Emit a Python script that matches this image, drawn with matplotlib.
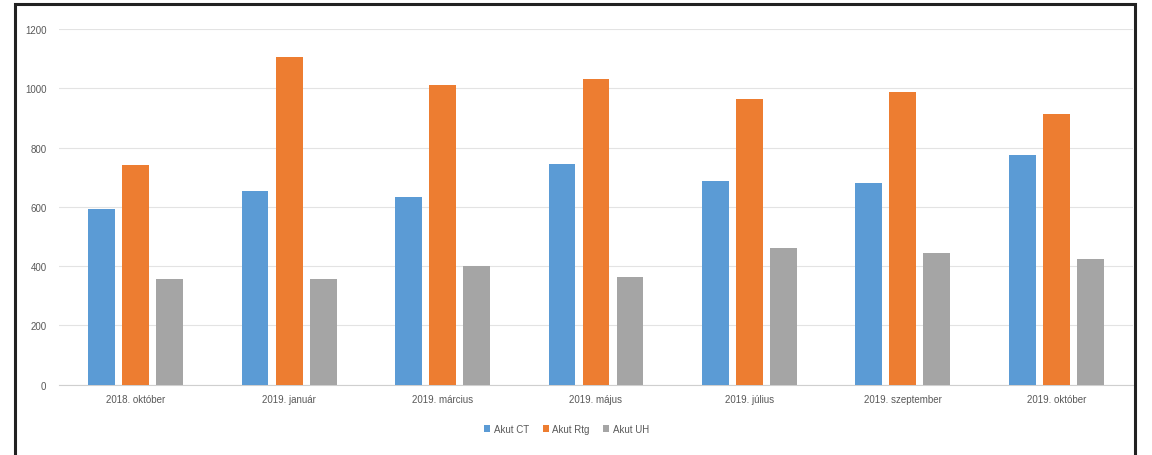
import matplotlib
matplotlib.use("Agg")
import matplotlib.pyplot as plt
import numpy as np
from matplotlib.patches import Rectangle

# havi vizsgálatszámok
honapok = ["2018. október", "2019. január", "2019. március", "2019. május",
           "2019. július", "2019. szeptember", "2019. október"]
akut_ct = [592, 654, 634, 746, 688, 679, 775]
akut_rtg = [741, 1107, 1011, 1031, 963, 986, 913]
akut_uh = [358, 356, 401, 362, 460, 443, 424]

sorozatok = [("Akut CT", akut_ct, "#5B9BD5"),
             ("Akut Rtg", akut_rtg, "#ED7D31"),
             ("Akut UH", akut_uh, "#A5A5A5")]

plt.rcParams["font.family"] = ["Liberation Sans", "DejaVu Sans"]

fig = plt.figure(figsize=(11.52, 4.56), dpi=100)
ax = fig.add_axes([0.0512, 0.1544, 0.9323, 0.7797])

x = np.arange(len(honapok))
lepes = 0.222
szel = 0.175
for i, (nev, ertek, szin) in enumerate(sorozatok):
    ax.bar(x + (i - 1) * lepes, ertek, width=szel, color=szin, label=nev, zorder=3)

ax.set_xlim(-0.5, len(honapok) - 0.5)
ax.set_ylim(0, 1200)
ax.set_yticks(range(0, 1201, 200))
ax.set_xticks(x)
ax.set_xticklabels(honapok)
ax.grid(axis="y", color="#e3e3e3", linewidth=0.8, zorder=0)
for s in ["top", "right", "left"]:
    ax.spines[s].set_visible(False)
ax.spines["bottom"].set_color("#cfcfcf")
ax.tick_params(axis="both", length=0, labelsize=7, colors="#595959")
ax.tick_params(axis="y", pad=9)
ax.tick_params(axis="x", pad=7)

fig.legend(loc="center", bbox_to_anchor=(0.492, 0.057), ncol=3, frameon=False,
           fontsize=7, handlelength=0.6, handleheight=0.6, handletextpad=0.4,
           columnspacing=1.4, labelcolor="#595959")

# fekete keret a diagram körül
fig.patches.append(Rectangle((15 / 1152, -0.05), (1135 - 15) / 1152, 1.05 - 5 / 456,
                             transform=fig.transFigure, fill=False,
                             edgecolor="#222222", linewidth=2.2, zorder=10))

fig.savefig("out.png", dpi=100, facecolor="white")
